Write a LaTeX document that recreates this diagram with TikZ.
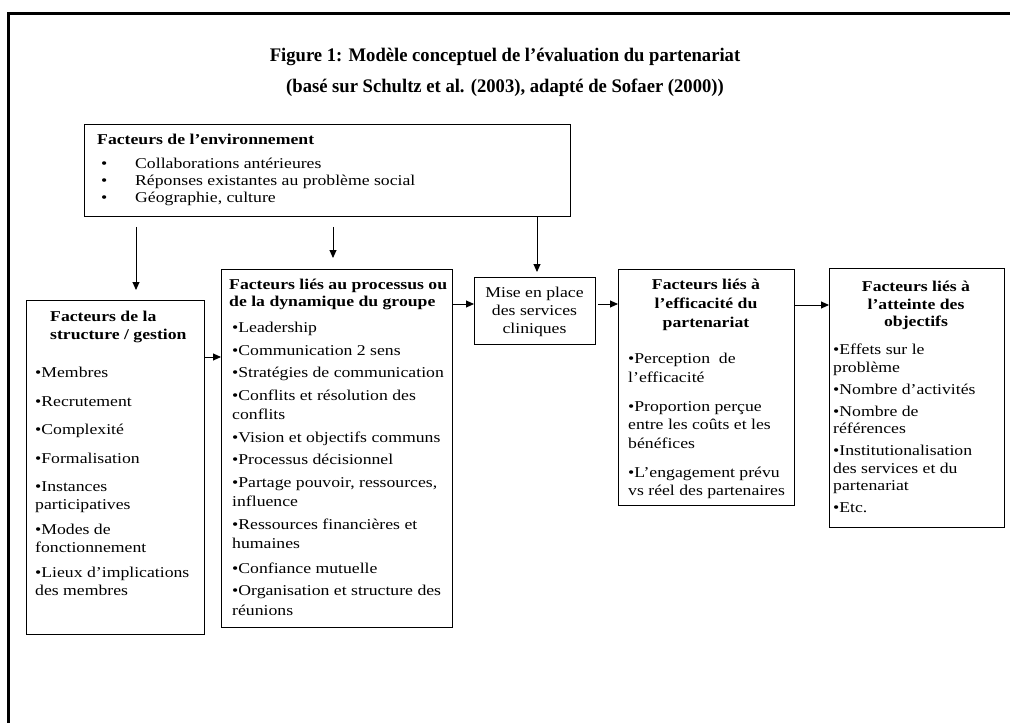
\documentclass[tikz,border=0pt]{standalone}
\usepackage{fontspec}
\setmainfont{Liberation Serif}[FakeStretch=1.18]
\newfontfamily\titrefont{Liberation Serif}[FakeStretch=0.97]
\usetikzlibrary{arrows.meta}
\newcommand{\traitboite}{0.9pt}
\newcommand{\traitfleche}{0.9pt}
\newcommand{\taille}[1]{\fontsize{15}{#1}\selectfont}

\begin{document}
\begin{tikzpicture}[x=1pt,y=-1pt,
        boite/.style={draw, line width=\traitboite, inner sep=0pt, anchor=north west},
        texte/.style={inner sep=0pt, anchor=north west, align=left},
        centre/.style={inner sep=0pt, anchor=north, align=center},
        fleche/.style={-{Triangle[length=8pt,width=7pt]}, line width=\traitfleche}]
    \useasboundingbox (0,0) rectangle (1010,723);
    %\draw[help lines, step=50] (0,0) grid (1010,723);
    \draw[line width=3pt] (8,723) -- (8,13) -- (1010,13);

    \node[font=\titrefont\bfseries\fontsize{19.2}{24}\selectfont] (titre1) at (505,57) {Figure 1: Modèle conceptuel de l’évaluation du partenariat};
    \node[font=\titrefont\bfseries\fontsize{19.2}{24}\selectfont] (titre2) at (505,88) {(basé sur Schultz et al. (2003), adapté de Sofaer (2000))};

    % les boites
    \node[boite, minimum width=486pt, minimum height=92pt] (env) at (84,124) {};
    \node[boite, minimum width=178pt, minimum height=334pt] (struc) at (26,300) {};
    \node[boite, minimum width=231pt, minimum height=358pt] (proc) at (221,269) {};
    \node[boite, minimum width=121pt, minimum height=67pt] (mise) at (474,277) {};
    \node[boite, minimum width=176pt, minimum height=236pt] (eff) at (618,269) {};
    \node[boite, minimum width=175pt, minimum height=259pt] (obj) at (829,268) {};

    \node[texte, font=\bfseries\taille{18}] (envT) at (97,134) {Facteurs de l’environnement};
    \node[texte, font=\taille{17}] (envL) at (101,158) {\makebox[34pt][l]{•}Collaborations antérieures\\
        \makebox[34pt][l]{•}Réponses existantes au problème social\\
        \makebox[34pt][l]{•}Géographie, culture};

    \node[texte, font=\bfseries\taille{18}] (strucT) at (50,311) {Facteurs de la\\structure / gestion};
    \node[texte, font=\taille{18}] (strucL) at (35,367) {•Membres\\[10.5pt]•Recrutement\\[10.5pt]•Complexité\\[10.5pt]•Formalisation\\[10.5pt]%
        •Instances\\participatives\\[7pt]•Modes de\\fonctionnement\\[7pt]•Lieux d’implications\\des membres};

    \node[texte, font=\bfseries\taille{16.5}] (procT) at (229,279) {Facteurs liés au processus ou\\de la dynamique du groupe};
    \node[texte, font=\taille{19.5}] (procL) at (232,322) {•Leadership\\[3pt]•Communication 2 sens\\[3pt]•Stratégies de communication\\[3pt]%
        •Conflits et résolution des\\conflits\\[3pt]•Vision et objectifs communs\\[3pt]•Processus décisionnel\\[3pt]%
        •Partage pouvoir, ressources,\\influence\\[3pt]•Ressources financières et\\humaines\\[5pt]%
        •Confiance mutuelle\\[3pt]•Organisation et structure des\\réunions};

    \node[centre, font=\taille{18}] (miseT) at (534.5,287) {Mise en place\\des services\\cliniques};

    \node[centre, font=\bfseries\taille{19}] (effT) at (706,279) {Facteurs liés à\\l’efficacité du\\partenariat};
    \node[texte, font=\taille{18.5}] (effL) at (628,353) {•Perception\ \ de\\l’efficacité\\[10.5pt]•Proportion perçue\\entre les coûts et les\\bénéfices\\[10.5pt]%
        •L’engagement prévu\\vs réel des partenaires};

    \node[centre, font=\bfseries\taille{17.5}] (objT) at (916,281) {Facteurs liés à\\l’atteinte des\\objectifs};
    \node[texte, font=\taille{17.5}] (objL) at (833,344) {•Effets sur le\\problème\\[4.5pt]•Nombre d’activités\\[4.5pt]•Nombre de\\références\\[4.5pt]%
        •Institutionalisation\\des services et du\\partenariat\\[4.5pt]•Etc.};

    % les fleches
    \draw[fleche, shorten <=10pt, shorten >=10pt] ([xshift=52pt]env.south west) -- ([xshift=110pt]struc.north west);
    \draw[fleche, shorten <=10pt, shorten >=11pt] ([xshift=249pt]env.south west) -- ([xshift=112pt]proc.north west);
    \draw[fleche, shorten >=5pt] ([xshift=453pt]env.south west) -- ([xshift=63pt]mise.north west);
    \draw[fleche] ([yshift=-57pt]struc.north east) -- ([yshift=-88pt]proc.north west);
    \draw[fleche] ([yshift=-35pt]proc.north east) -- ([yshift=-27pt]mise.north west);
    \draw[fleche, shorten <=2pt] ([yshift=-27pt]mise.north east) -- ([yshift=-35pt]eff.north west);
    \draw[fleche] ([yshift=-36pt]eff.north east) -- ([yshift=-37pt]obj.north west);
\end{tikzpicture}
\end{document}
